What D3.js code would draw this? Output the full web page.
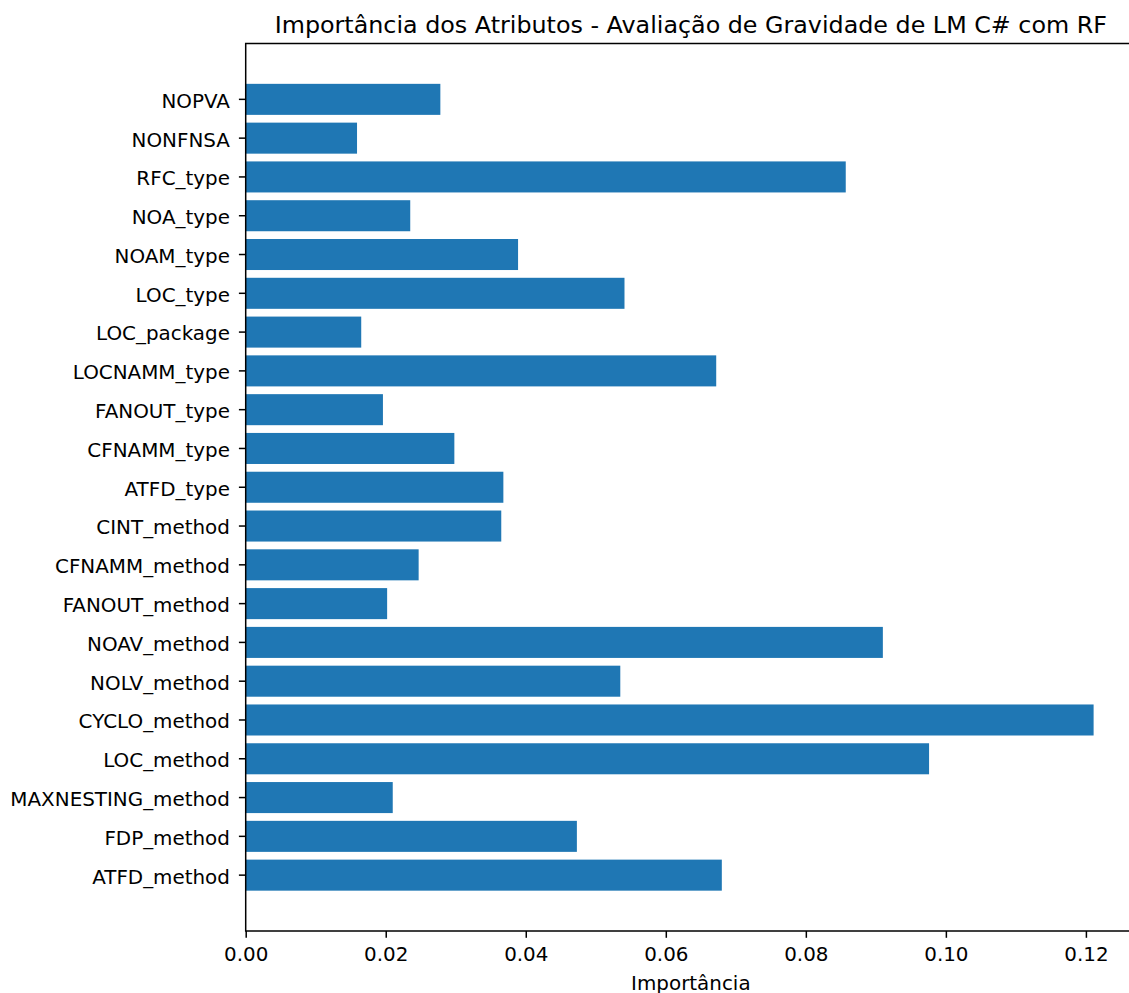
<!DOCTYPE html>
<html>
<head>
<meta charset="utf-8">
<script src="https://cdn.jsdelivr.net/npm/d3@7"></script>
<style>
  html, body { margin: 0; padding: 0; background: #ffffff; }
  svg { display: block; font-family: "DejaVu Sans", sans-serif; }
</style>
</head>
<body>
<svg id="chart" width="1129" height="993"></svg>
<script>
// Feature names, listed from the bottom bar upward
const features = [
  "ATFD_method", "FDP_method", "MAXNESTING_method", "LOC_method", "CYCLO_method",
  "NOLV_method", "NOAV_method", "FANOUT_method", "CFNAMM_method", "CINT_method",
  "ATFD_type", "CFNAMM_type", "FANOUT_type", "LOCNAMM_type", "LOC_package",
  "LOC_type", "NOAM_type", "NOA_type", "RFC_type", "NONFNSA", "NOPVA"
];

// Random-forest feature importances, same order as above
const importances = [
  0.0680, 0.0473, 0.0210, 0.0976, 0.1211,
  0.0535, 0.0910, 0.0202, 0.0247, 0.0365,
  0.0368, 0.0298, 0.0196, 0.0672, 0.0165,
  0.0541, 0.0389, 0.0235, 0.0857, 0.0159, 0.0278
];

const xTicks = [0.00, 0.02, 0.04, 0.06, 0.08, 0.10, 0.12];

const chartTitle = "Importância dos Atributos - Avaliação de Gravidade de LM C# com RF";
const xTitle = "Importância";

// Plot frame
const frame = { left: 245.7, top: 43.5, right: 1136, bottom: 931 };
const tickFont = 19.9, titleFont = 23.8;
const tickLen = 6.8, lineW = 1.5;

const svg = d3.select("#chart");

const x = d3.scaleLinear()
  .domain([0, d3.max(importances) * 1.05])
  .range([frame.left, frame.right]);

// Band layout: bar height 0.8 of the slot, 5% axis margin on each end
const y = d3.scaleBand()
  .domain(features)
  .range([frame.bottom, frame.top])
  .paddingInner(0.2)
  .paddingOuter(1.04);

const rows = features.map((f, i) => ({ name: f, value: importances[i] }));

// Bars
svg.append("g")
  .selectAll("rect")
  .data(rows)
  .join("rect")
  .attr("x", x(0))
  .attr("y", d => y(d.name))
  .attr("width", d => x(d.value) - x(0))
  .attr("height", y.bandwidth())
  .attr("fill", "#1f77b4");

// Y axis
const yAxis = svg.append("g")
  .attr("transform", `translate(${frame.left},0)`)
  .call(d3.axisLeft(y).tickSize(tickLen).tickSizeOuter(0).tickPadding(9));
yAxis.select(".domain").remove();
yAxis.selectAll("line").attr("stroke", "#000").attr("stroke-width", lineW);
yAxis.selectAll("text")
  .attr("fill", "#000")
  .attr("dy", "0.42em")
  .style("font-size", tickFont + "px")
  .style("font-family", "DejaVu Sans, sans-serif");

// X axis
const xAxis = svg.append("g")
  .attr("transform", `translate(0,${frame.bottom})`)
  .call(d3.axisBottom(x).tickValues(xTicks).tickFormat(d3.format(".2f"))
    .tickSize(tickLen).tickSizeOuter(0).tickPadding(9));
xAxis.select(".domain").remove();
xAxis.selectAll("line").attr("stroke", "#000").attr("stroke-width", lineW);
xAxis.selectAll("text")
  .attr("fill", "#000")
  .style("font-size", tickFont + "px")
  .style("font-family", "DejaVu Sans, sans-serif");

// Spines
svg.append("rect")
  .attr("x", frame.left)
  .attr("y", frame.top)
  .attr("width", frame.right - frame.left)
  .attr("height", frame.bottom - frame.top)
  .attr("fill", "none")
  .attr("stroke", "#000")
  .attr("stroke-width", lineW);

// Title
svg.append("text")
  .attr("x", (frame.left + frame.right) / 2)
  .attr("y", 32.5)
  .attr("text-anchor", "middle")
  .attr("fill", "#000")
  .style("font-size", titleFont + "px")
  .text(chartTitle);

// X axis title
svg.append("text")
  .attr("x", (frame.left + frame.right) / 2)
  .attr("y", 989.5)
  .attr("text-anchor", "middle")
  .attr("fill", "#000")
  .style("font-size", tickFont + "px")
  .text(xTitle);
</script>
</body>
</html>
